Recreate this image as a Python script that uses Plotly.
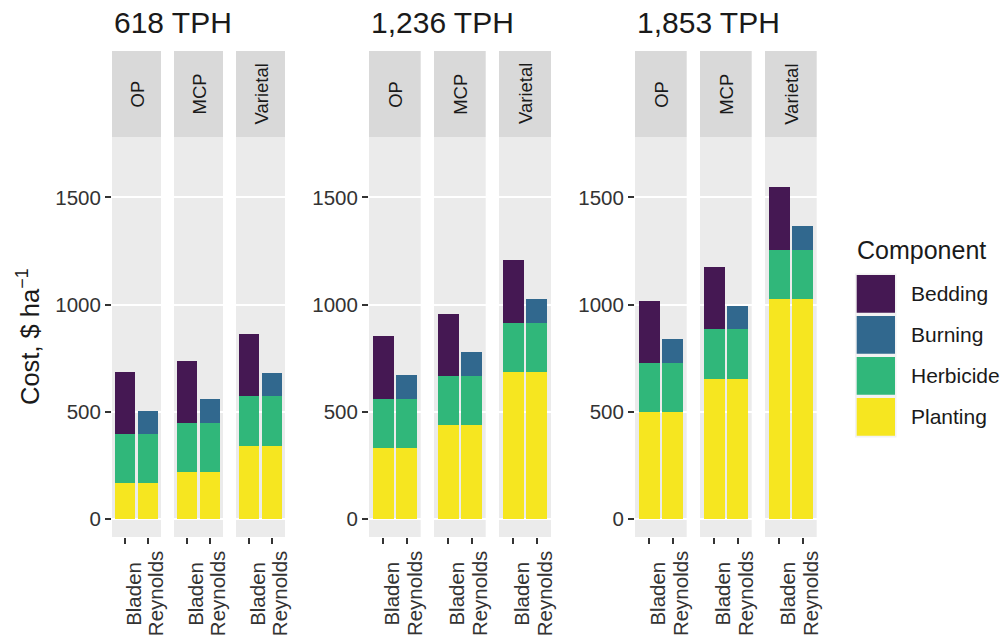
import plotly.graph_objects as go

# ---------------- data ----------------
densities = ["618 TPH", "1,236 TPH", "1,853 TPH"]
stock_types = ["OP", "MCP", "Varietal"]
sites = ["Bladen", "Reynolds"]
components = ["Bedding", "Burning", "Herbicide", "Planting"]
colors = ["#451853", "#31688E", "#30B77A", "#F6E620"]

# planting cost per stock type (OP, MCP, Varietal) for each density
planting_618 = [166, 218, 342]
planting_1236 = [332, 437, 685]
planting_1853 = [498, 655, 1026]
planting_by_density = [planting_618, planting_1236, planting_1853]

# site-specific costs (Bladen, Reynolds)
herbicide_cost = [230, 230]
burning_cost = [0, 110]
bedding_cost = [291, 0]

y_ticks = [0, 500, 1000, 1500]

# ---------------- layout helpers ----------------
W, H = 1000, 639
def px(x):
    return x / W
def py(y):
    return 1 - y / H

facet_x = [
    [(112, 161), (174, 223), (236, 285)],
    [(369, 420.7), (434, 485.7), (499, 551)],
    [(635, 686.7), (700, 751.7), (765, 816.7)],
]
title_x = [112, 369, 635]
panel_top, panel_bot = 137, 537
strip_top = 51
FONT = "Liberation Sans"
TXT = "#1A1A1A"
TICK = "#333333"

fig = go.Figure()
layout = dict(
    width=W, height=H,
    margin=dict(l=0, r=0, t=0, b=0),
    paper_bgcolor="white",
    plot_bgcolor="#EBEBEB",
    barmode="stack",
    bargap=0.1,
    showlegend=False,
    font=dict(family=FONT, color=TXT),
)
shapes = []
annotations = []

stack_order = ["Planting", "Herbicide", "Burning", "Bedding"]

for g in range(3):
    for f in range(3):
        idx = g * 3 + f + 1
        sfx = "" if idx == 1 else str(idx)
        first = g * 3 + 1
        first_sfx = "" if first == 1 else str(first)
        p = planting_by_density[g][f]
        values = {
            "Planting": [p, p],
            "Herbicide": herbicide_cost,
            "Burning": burning_cost,
            "Bedding": bedding_cost,
        }
        for comp in stack_order:
            fig.add_trace(go.Bar(
                x=sites, y=values[comp], name=comp,
                marker=dict(color=colors[components.index(comp)], line=dict(width=0)),
                xaxis="x" + sfx, yaxis="y" + sfx,
                showlegend=False, hoverinfo="x+y+name",
            ))
        x0, x1 = facet_x[g][f]
        layout["xaxis" + sfx] = dict(
            domain=[px(x0), px(x1)], anchor="y" + sfx,
            type="category", categoryorder="array", categoryarray=sites,
            range=[-0.6, 1.6], showgrid=False, zeroline=False, showline=False,
            ticks="outside", ticklen=6, tickwidth=1.6, tickcolor=TICK,
            showticklabels=False, automargin=False, fixedrange=True,
        )
        ya = dict(
            domain=[py(panel_bot), py(panel_top)], anchor="x" + sfx,
            range=[-84, 1782], tickmode="array", tickvals=y_ticks,
            showgrid=True, gridcolor="white", gridwidth=1.8,
            zeroline=False, showline=False, automargin=False, fixedrange=True,
        )
        if f == 0:
            ya.update(ticks="outside", ticklen=6, tickwidth=1.6, tickcolor=TICK,
                      showticklabels=True,
                      tickfont=dict(family=FONT, size=20.5, color=TICK))
        else:
            ya.update(ticks="", showticklabels=False, matches="y" + first_sfx)
        layout["yaxis" + sfx] = ya

        # strip
        shapes.append(dict(type="rect", xref="paper", yref="paper",
                           x0=px(x0), x1=px(x1), y0=py(panel_top), y1=py(strip_top),
                           fillcolor="#D9D9D9", line=dict(width=0), layer="below"))
        annotations.append(dict(text=stock_types[f], xref="paper", yref="paper",
                                x=px((x0 + x1) / 2), y=py((strip_top + panel_top) / 2),
                                textangle=-90, showarrow=False,
                                xanchor="center", yanchor="middle",
                                font=dict(family=FONT, size=18.5, color=TXT)))
        # x tick labels
        for s in sites:
            annotations.append(dict(text=s, xref="x" + sfx, yref="paper",
                                    x=s, y=py(594), xshift=7.5,
                                    textangle=-90, showarrow=False,
                                    xanchor="center", yanchor="middle",
                                    font=dict(family=FONT, size=20.5, color=TICK)))
    # group title
    annotations.append(dict(text=densities[g], xref="paper", yref="paper",
                            x=px(title_x[g]), y=py(23), showarrow=False,
                            xanchor="left", yanchor="middle",
                            font=dict(family=FONT, size=30, color=TXT)))

# y axis title
annotations.append(dict(text="Cost, $ ha<sup>\u22121</sup>", xref="paper", yref="paper",
                        x=px(28), y=py(337), textangle=-90, showarrow=False,
                        xanchor="center", yanchor="middle",
                        font=dict(family=FONT, size=25.5, color=TXT)))

# legend (drawn)
annotations.append(dict(text="Component", xref="paper", yref="paper",
                        x=px(855), y=py(250), showarrow=False,
                        xanchor="left", yanchor="middle",
                        font=dict(family=FONT, size=25, color=TXT)))
shapes.append(dict(type="rect", xref="paper", yref="paper",
                   x0=px(855), x1=px(896.5), y0=py(437.5), y1=py(273.5),
                   fillcolor="#F2F2F2", line=dict(width=0)))
key_top = 275
key_h = 37.7
key_step = 41
for i, comp in enumerate(components):
    t = key_top + i * key_step
    shapes.append(dict(type="rect", xref="paper", yref="paper",
                       x0=px(856.7), x1=px(895), y0=py(t + key_h), y1=py(t),
                       fillcolor=colors[i], line=dict(width=0)))
    annotations.append(dict(text=comp, xref="paper", yref="paper",
                            x=px(909), y=py(t + key_h / 2), showarrow=False,
                            xanchor="left", yanchor="middle",
                            font=dict(family=FONT, size=21, color=TXT)))

layout["shapes"] = shapes
layout["annotations"] = annotations
fig.update_layout(**layout)
fig.write_html(
    "out.html",
    config={"displayModeBar": False},
    post_script="document.body.style.margin='0px';document.body.style.overflow='hidden';",
)
